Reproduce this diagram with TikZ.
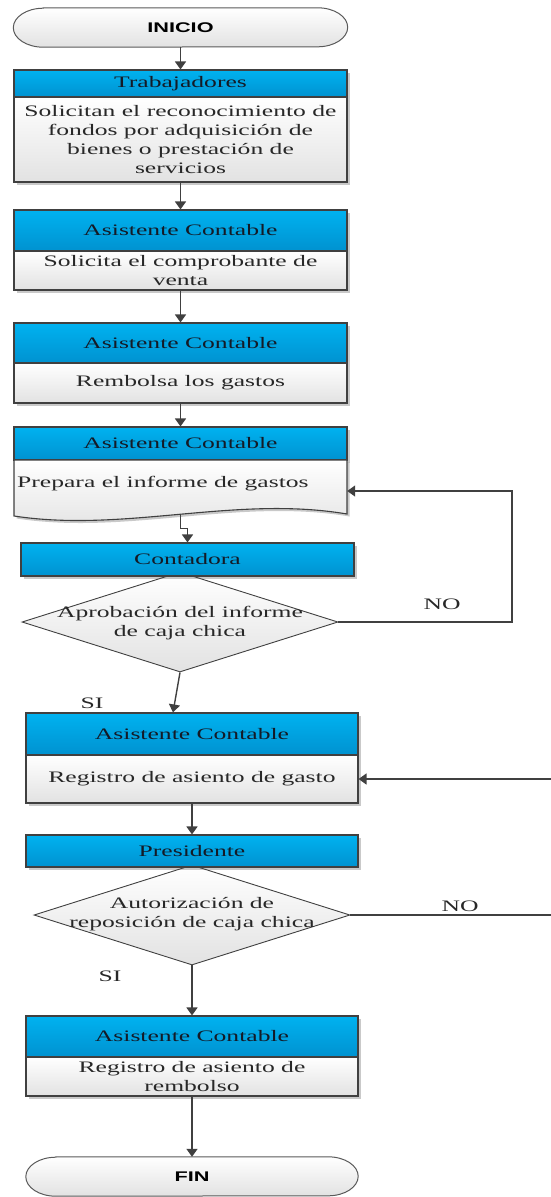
\documentclass[tikz,border=0pt]{standalone}
\usepackage{fontspec}
\setmainfont{Liberation Serif}[FakeStretch=1.6]
\newfontfamily\termfont{Liberation Sans}[FakeStretch=1.55]
\usetikzlibrary{arrows.meta,shapes.geometric,shadows,backgrounds,calc}

\definecolor{hdtop}{RGB}{0,178,240}
\definecolor{hdbot}{RGB}{0,146,208}
\definecolor{edge}{RGB}{64,64,64}
\definecolor{termedge}{RGB}{90,90,90}
\definecolor{bodybot}{RGB}{226,226,226}
\definecolor{hdtext}{RGB}{20,26,38}
\definecolor{bodytext}{RGB}{40,40,40}

\tikzset{
  boxshadow/.style={drop shadow={shadow xshift=2.5pt, shadow yshift=-2.5pt, opacity=0.3, fill=black!70}},
  hdr/.style={rectangle, draw=edge, line width=1.1pt, top color=hdtop, bottom color=hdbot,
    text=hdtext, inner sep=0pt, boxshadow},
  bdy/.style={rectangle, draw=edge, line width=1.1pt, top color=white, bottom color=bodybot,
    text=bodytext, inner sep=0pt, align=center, boxshadow},
  dmd/.style={diamond, draw=edge, line width=0.9pt, top color=white, bottom color=bodybot,
    inner sep=0pt},
  qtext/.style={text=bodytext, align=center, inner sep=0pt},
  lbl/.style={text=bodytext, inner sep=0pt},
  termbox/.style={rectangle, inner sep=0pt, text=black,
    font=\termfont\bfseries\fontsize{14}{16}\selectfont},
  termline/.style={draw=termedge, line width=1pt, top color=white, bottom color=bodybot},
  conn/.style={draw=edge, line width=1.4pt, -{Triangle[length=8pt,width=11pt]}},
  plain/.style={draw=edge, line width=1.4pt},
}

% capsule outline (start / end) behind a named node
\newcommand\capsule[1]{%
  \begin{pgfonlayer}{background}
    \path[termline] ($(#1.north west)+(30pt,0)$) -- ($(#1.north east)+(-30pt,0)$)
      arc[start angle=90, end angle=-90, x radius=30pt, y radius=19.5pt]
      -- ($(#1.south west)+(30pt,0)$)
      arc[start angle=-90, end angle=-270, x radius=30pt, y radius=19.5pt] -- cycle;
  \end{pgfonlayer}}

\begin{document}
\begin{tikzpicture}[x=1pt, y=-1pt, font=\fontsize{16}{19}\selectfont]
\useasboundingbox (0,0) rectangle (550,1197);

% start
\node[termbox, minimum width=334pt, minimum height=39pt] (inicio) at (180.5,27.5) {INICIO};
\capsule{inicio}

% Trabajadores
\node[hdr, minimum width=333pt, minimum height=27pt] (h1) at (180.5,83.5) {Trabajadores};
\node[bdy, minimum width=333pt, minimum height=85pt] (b1) at (180.5,139.5)
  {Solicitan el reconocimiento de\\fondos por adquisición de\\bienes o prestación de\\servicios};

% Asistente Contable: comprobante
\node[hdr, minimum width=333pt, minimum height=41pt] (h2) at (180.5,230.5) {Asistente Contable};
\node[bdy, minimum width=333pt, minimum height=39pt] (b2) at (180.5,270.5)
  {Solicita el comprobante de\\venta};

% Asistente Contable: rembolso
\node[hdr, minimum width=333pt, minimum height=40pt] (h3) at (180.5,343) {Asistente Contable};
\node[bdy, minimum width=333pt, minimum height=40pt] (b3) at (180.5,383) {Rembolsa los gastos};

% Asistente Contable: informe (document shape)
\node[hdr, minimum width=333pt, minimum height=33pt] (h4) at (180.5,443.5) {Asistente Contable};
\path[draw=edge, line width=1.1pt, top color=white, bottom color=bodybot, boxshadow]
  (14,460) -- (347,460) -- (347,514)
  .. controls (235,495) and (125,533) .. (14,516) -- cycle;
\node[lbl, anchor=west] (t4) at (17,484) {Prepara el informe de gastos};
\node[rectangle, inner sep=0pt, minimum width=333pt, minimum height=62pt] (b4) at (180.5,491) {};

% Contadora decision
\node[dmd, minimum width=316pt, minimum height=100pt] (d1) at (180,622) {};
\node[hdr, minimum width=333pt, minimum height=33pt] (h5) at (187.5,559.5) {Contadora};
\node[qtext] (q1) at (180,623) {Aprobación del informe\\de caja chica};

% Asistente Contable: gasto
\node[hdr, minimum width=332pt, minimum height=42pt] (h6) at (192,734) {Asistente Contable};
\node[bdy, minimum width=332pt, minimum height=48pt] (b6) at (192,779) {Registro de asiento de gasto};

% Presidente decision
\node[dmd, minimum width=316pt, minimum height=100pt] (d2) at (192,915) {};
\node[hdr, minimum width=332pt, minimum height=32pt] (h7) at (192,851) {Presidente};
\node[qtext] (q2) at (192,914) {Autorización de\\reposición de caja chica};

% Asistente Contable: rembolso final
\node[hdr, minimum width=332pt, minimum height=41pt] (h8) at (192,1036.5) {Asistente Contable};
\node[bdy, minimum width=332pt, minimum height=39pt] (b8) at (192,1076.5)
  {Registro de asiento de\\rembolso};

% end
\node[termbox, minimum width=332pt, minimum height=39pt] (fin) at (192,1176.5) {FIN};
\capsule{fin}

% branch labels
\node[lbl] (no1) at (442,604) {NO};
\node[lbl] (si1) at (92,703) {SI};
\node[lbl] (no2) at (460,906) {NO};
\node[lbl] (si2) at (110,976) {SI};

% helper points
\coordinate (noturn) at (512,491);
\coordinate (edgeA) at (551,915);
\coordinate (edgeB) at (551,779);

% connectors
\draw[conn] (inicio.south) -- (h1.north);
\draw[conn] (b1.south) -- (h2.north);
\draw[conn] (b2.south) -- (h3.north);
\draw[conn] (b3.south) -- (h4.north);
\draw[conn] ([yshift=8pt]b4.south) -- ++(0,14) -| (h5.north);
\draw[conn] (d1.east) -| (noturn) -- (b4.east);
\draw[conn] (d1.south) -- ([xshift=-19pt]h6.north);
\draw[conn] (b6.south) -- (h7.north);
\draw[plain] (d2.east) -- (edgeA);
\draw[conn] (edgeB) -- (b6.east);
\draw[conn] (d2.south) -- (h8.north);
\draw[conn] (b8.south) -- (fin.north);
\end{tikzpicture}
\end{document}
